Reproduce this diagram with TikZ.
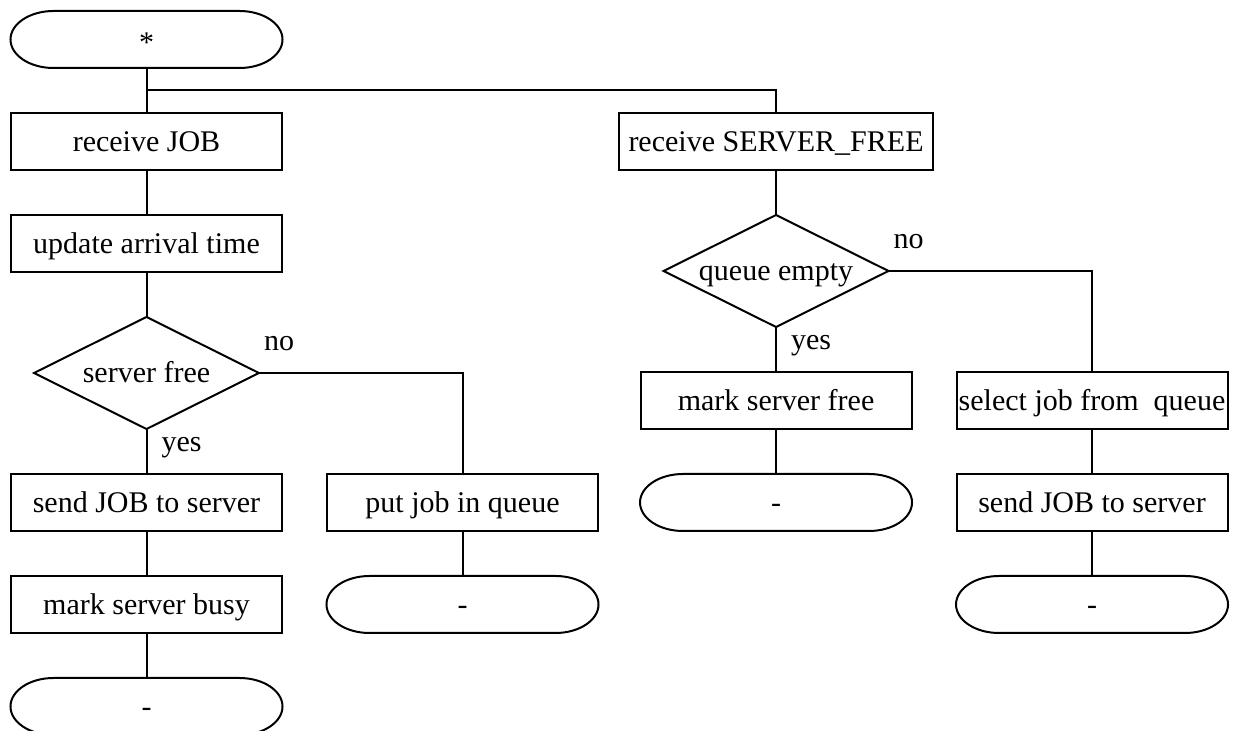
\documentclass[tikz,border=0pt]{standalone}
\usepackage{fontspec}
\setmainfont{Liberation Serif}
\usetikzlibrary{shapes.geometric, positioning, calc}

\begin{document}
\begin{tikzpicture}[node distance = 22.5pt, auto, font=\fontsize{15pt}{18pt}\selectfont]
\tikzstyle{block} = [rectangle, draw, line width=1pt, outer sep=0pt, text = black,
    minimum width=135.5pt, minimum height=28.5pt, inner xsep=4.75pt,
    text height=10.5pt, text depth=.75pt, text centered]
\tikzstyle{decision} = [diamond, draw, line width=1pt, outer sep=0pt, shape aspect=2,
    inner sep=0pt, minimum width=112.5pt, minimum height=56pt,
    text height=10.5pt, text depth=.75pt]
\tikzstyle{term} = [rectangle, outer sep=0pt, minimum width=136pt, minimum height=28.5pt,
    text height=10.5pt, text depth=.75pt]
\tikzstyle{line} = [draw, line width=1pt]
\tikzstyle{answer} = [inner sep=2pt]
    \useasboundingbox (0,0) rectangle (616.5pt,-365.5pt);
    % Place nodes
    \node [term, text height=13.5pt] (start) at (73.25pt,-19.75pt) {*};
    \node [block, below=of start] (recvjob) {receive JOB};
    \node [block, below=of recvjob] (update) {update arrival time};
    \node [decision, below=of update] (srvfree) {server free};
    \node [block, below=of srvfree] (sendjob) {send JOB to server};
    \node [block, below=of sendjob] (busy) {mark server busy};
    \node [term, below=of busy] (end1) {-};
    \node [block, right=of sendjob] (putjob) {put job in queue};
    \node [term, below=of putjob] (end2) {-};
    \node [block, right=168.5pt of recvjob] (recvfree) {receive SERVER\_FREE};
    \node [decision, below=of recvfree] (qempty) {queue empty};
    \node [block, below=of qempty] (markfree) {mark server free};
    \node [term, below=of markfree] (end3) {-};
    \node [block, right=of markfree, inner xsep=1pt] (select) {select job from\ \ queue};
    \node [block, below=of select] (sendjob2) {send JOB to server};
    \node [term, below=of sendjob2] (end4) {-};
    \coordinate (split) at ($(start.south)!.5!(recvjob.north)$);

    % terminal outlines
    \foreach \t in {start, end1, end2, end3, end4}
      \draw [line width=1pt] ([xshift=21.5pt]\t.north west) -- ([xshift=-21.5pt]\t.north east)
        arc [start angle=90, end angle=-90, x radius=21.5pt, y radius=14.25pt]
        -- ([xshift=21.5pt]\t.south west)
        arc [start angle=270, end angle=90, x radius=21.5pt, y radius=14.25pt] -- cycle;

%paths
    \path [line] (start) -- (recvjob);
    \path [line] (split) -| (recvfree);
    \path [line] (recvjob) -- (update);
    \path [line] (update) -- (srvfree);
    \path [line] (srvfree) -- node [answer, right=5pt, pos=.42] {yes} (sendjob);
    \path [line] (srvfree.east) node [answer, above right=8.5pt and 0pt] {no} -| (putjob);
    \path [line] (sendjob) -- (busy);
    \path [line] (busy) -- (end1);
    \path [line] (putjob) -- (end2);
    \path [line] (recvfree) -- (qempty);
    \path [line] (qempty) -- node [answer, right=5pt, pos=.42] {yes} (markfree);
    \path [line] (qempty.east) node [answer, above right=8.5pt and 0pt] {no} -| (select);
    \path [line] (markfree) -- (end3);
    \path [line] (select) -- (sendjob2);
    \path [line] (sendjob2) -- (end4);

\end{tikzpicture}
\end{document}
